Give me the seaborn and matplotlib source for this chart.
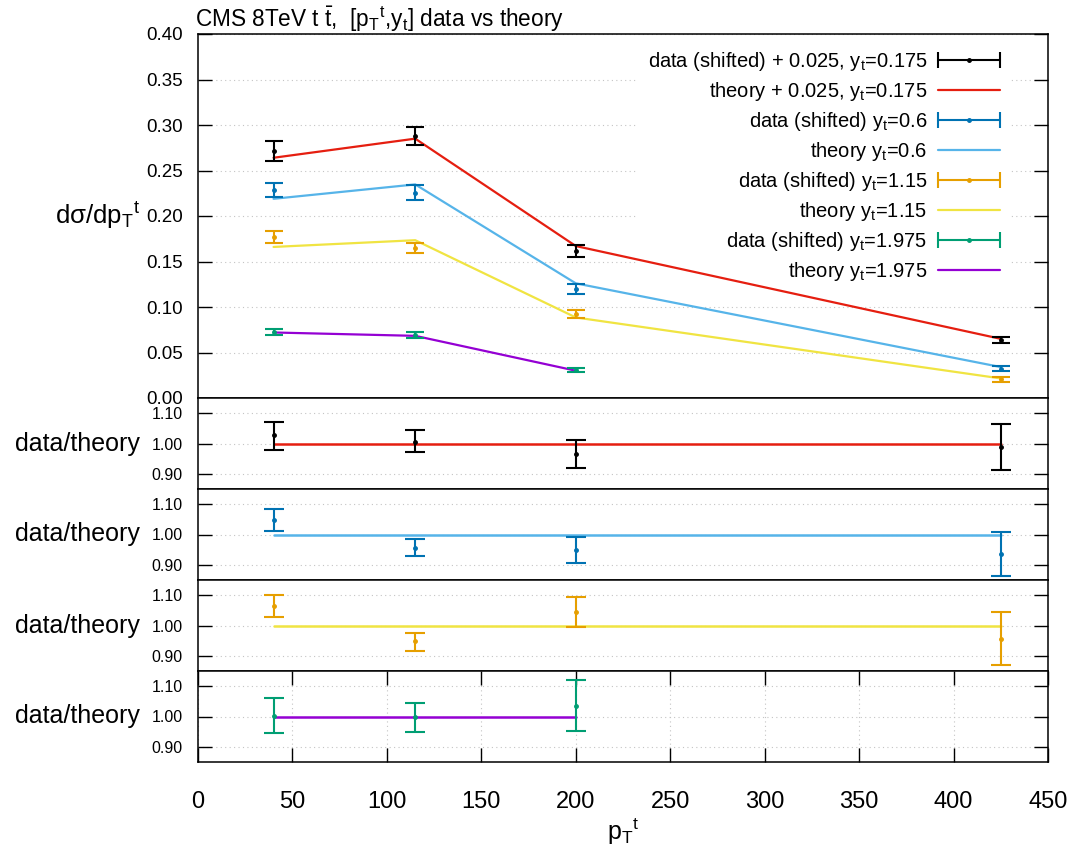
import numpy as np
import pandas as pd
import matplotlib
matplotlib.use("Agg")
import matplotlib.pyplot as plt
from matplotlib.lines import Line2D
from matplotlib.legend_handler import HandlerLine2D
import seaborn as sns

# ---------------- data ----------------
pt = [40, 115, 200, 425]
pt_short = [40, 115, 200]

data_y1 = [0.271, 0.288, 0.162, 0.064]
err_y1 = [0.011, 0.0095, 0.0066, 0.0034]
theory_y1 = [0.264, 0.285, 0.167, 0.065]

data_y2 = [0.2285, 0.2255, 0.1197, 0.032]
err_y2 = [0.0074, 0.0083, 0.0055, 0.0028]
theory_y2 = [0.2189, 0.2347, 0.126, 0.034]

data_y3 = [0.1767, 0.165, 0.0922, 0.0207]
err_y3 = [0.0065, 0.0055, 0.0042, 0.0026]
theory_y3 = [0.166, 0.1734, 0.0885, 0.0215]

data_y4 = [0.072, 0.069, 0.0309]
err_y4 = [0.0033, 0.003, 0.0025]
theory_y4 = [0.072, 0.0683, 0.030]

ratio1 = [1.028, 1.006, 0.965, 0.987]
ratio1_lo = [0.980, 0.973, 0.918, 0.912]
ratio1_hi = [1.072, 1.043, 1.011, 1.063]

ratio2 = [1.047, 0.957, 0.950, 0.936]
ratio2_lo = [1.013, 0.928, 0.906, 0.864]
ratio2_hi = [1.083, 0.986, 0.991, 1.007]

ratio3 = [1.063, 0.948, 1.044, 0.956]
ratio3_lo = [1.027, 0.916, 0.996, 0.869]
ratio3_hi = [1.101, 0.975, 1.093, 1.043]

ratio4 = [1.002, 0.997, 1.034]
ratio4_lo = [0.946, 0.949, 0.952]
ratio4_hi = [1.060, 1.043, 1.120]

data_labels = ["data (shifted) + 0.025, y$_t$=0.175", "data (shifted) y$_t$=0.6",
               "data (shifted) y$_t$=1.15", "data (shifted) y$_t$=1.975"]
theory_labels = ["theory + 0.025, y$_t$=0.175", "theory y$_t$=0.6",
                 "theory y$_t$=1.15", "theory y$_t$=1.975"]

data_colors = ["#000000", "#0072b2", "#e69f00", "#009e73"]
theory_colors = ["#e51e10", "#56b4e9", "#f0e442", "#9400d3"]

top_yticks = [0.00, 0.05, 0.10, 0.15, 0.20, 0.25, 0.30, 0.35, 0.40]
ratio_yticks = [0.90, 1.00, 1.10]
x_ticks = [0, 50, 100, 150, 200, 250, 300, 350, 400, 450]

# ---------------- style ----------------
sns.set_theme(style="ticks")
plt.rcParams["font.family"] = ["Liberation Sans", "DejaVu Sans"]
plt.rcParams["mathtext.fontset"] = "custom"
plt.rcParams["mathtext.rm"] = "Liberation Sans"
plt.rcParams["mathtext.it"] = "Liberation Sans"
plt.rcParams["mathtext.default"] = "regular"
for k in ["text.color", "axes.labelcolor", "xtick.color", "ytick.color"]:
    plt.rcParams[k] = "black"

W, H = 1070, 851
fig = plt.figure(figsize=(W / 100, H / 100), dpi=100)

left = 198 / W
width = 850 / W

def rect(top_px, bot_px):
    return [left, 1 - bot_px / H, width, (bot_px - top_px) / H]

ax_top = fig.add_axes(rect(34, 398))
ratio_axes = [fig.add_axes(rect(398 + 91 * i, 489 + 91 * i)) for i in range(4)]

grid_kw = dict(color="#c4c4c4", linestyle=(0, (1, 3)), linewidth=0.8)
TICKLEN = 10

def style_axis(ax):
    for s in ax.spines.values():
        s.set_color("black")
        s.set_linewidth(1.1)
        s.set_visible(True)
    ax.set_facecolor("white")

# ---------------- top panel ----------------
datas = [data_y1, data_y2, data_y3, data_y4]
errs = [err_y1, err_y2, err_y3, err_y4]
theories = [theory_y1, theory_y2, theory_y3, theory_y4]
xs = [pt, pt, pt, pt_short]

for i in range(4):
    df = pd.DataFrame({"pt": xs[i], "theory": theories[i]})
    sns.lineplot(data=df, x="pt", y="theory", ax=ax_top, color=theory_colors[i],
                 linewidth=1.6, legend=False, zorder=2)
    ax_top.errorbar(xs[i], datas[i], yerr=errs[i], fmt="o", color=data_colors[i],
                    markersize=2.5, elinewidth=1.5, capsize=6.5, capthick=1.5, zorder=3)

style_axis(ax_top)
ax_top.set_xlim(0, 450)
ax_top.set_ylim(0, 0.40)
ax_top.set_yticks(top_yticks)
ax_top.set_yticklabels([f"{v:.2f}" for v in top_yticks])
ax_top.set_xticks(x_ticks)
ax_top.tick_params(axis="x", bottom=False, top=False, labelbottom=False)
ax_top.tick_params(axis="y", direction="in", length=TICKLEN, width=1, left=True,
                   right=True, labelsize=13.5, pad=11)
ax_top.grid(axis="y", **grid_kw)
ax_top.set_xlabel("")
ax_top.set_ylabel("dσ/dp$_T$$^t$", rotation=0, fontsize=18.5, ha="right", va="center")
ax_top.yaxis.set_label_coords(-0.068, 0.5)
ax_top.set_title(r"CMS 8TeV t $\bar{t}$,  [p$_T$$^t$,y$_t$] data vs theory",
                 loc="left", fontsize=16.3, pad=3, x=-0.004)

# legend
handles, labels, hmap = [], [], {}
for i in range(4):
    cap = Line2D([], [], color=data_colors[i], marker="|", markersize=12,
                 markeredgewidth=1.5, linewidth=1.5)
    dot = Line2D([], [], color=data_colors[i], marker="o", markersize=2.5, linewidth=0)
    hmap[cap] = HandlerLine2D(numpoints=2, marker_pad=0)
    handles.append((cap, dot))
    labels.append(data_labels[i])
    handles.append(Line2D([], [], color=theory_colors[i], linewidth=1.6))
    labels.append(theory_labels[i])

leg = ax_top.legend(handles, labels, handler_map=hmap, loc="upper right",
                    bbox_to_anchor=(0.9553, 0.984), borderaxespad=0, borderpad=0.5,
                    markerfirst=False, fontsize=14.5, handlelength=3.1,
                    handletextpad=0.5, labelspacing=0.35, frameon=True,
                    fancybox=False, framealpha=1.0)
leg.get_frame().set_facecolor("white")
leg.get_frame().set_edgecolor("none")
leg.set_zorder(1.5)

# ---------------- ratio panels ----------------
ratios = [ratio1, ratio2, ratio3, ratio4]
ratios_lo = [ratio1_lo, ratio2_lo, ratio3_lo, ratio4_lo]
ratios_hi = [ratio1_hi, ratio2_hi, ratio3_hi, ratio4_hi]

for i, ax in enumerate(ratio_axes):
    x = xs[i]
    df = pd.DataFrame({"pt": x, "ratio": [1.0] * len(x)})
    sns.lineplot(data=df, x="pt", y="ratio", ax=ax, color=theory_colors[i],
                 linewidth=1.8, legend=False, zorder=2)
    c = np.array(ratios[i])
    lo = c - np.array(ratios_lo[i])
    hi = np.array(ratios_hi[i]) - c
    ax.errorbar(x, c, yerr=[lo, hi], fmt="o", color=data_colors[i], markersize=2.5,
                elinewidth=1.5, capsize=7, capthick=1.5, zorder=3)
    style_axis(ax)
    ax.set_xlim(0, 450)
    ax.set_ylim(0.85, 1.15)
    ax.set_yticks(ratio_yticks)
    ax.set_yticklabels([f"{v:.2f}" for v in ratio_yticks])
    ax.set_xticks(x_ticks)
    ax.tick_params(axis="y", direction="in", length=TICKLEN, width=1, left=True,
                   right=True, labelsize=11.5, pad=11)
    ax.set_ylabel("data/theory", rotation=0, fontsize=18, ha="right", va="center")
    ax.yaxis.set_label_coords(-0.068, 0.5)
    if i < 3:
        ax.tick_params(axis="x", bottom=False, top=False, labelbottom=False)
        ax.grid(axis="y", **grid_kw)
        ax.set_xlabel("")
    else:
        ax.tick_params(axis="x", direction="in", length=TICKLEN, width=1, bottom=True,
                       top=True, labelsize=17, pad=21)
        ax.grid(axis="both", **grid_kw)
        ax.set_xlabel("p$_T$$^t$", fontsize=18, labelpad=2)

fig.savefig("out.png", dpi=100)
